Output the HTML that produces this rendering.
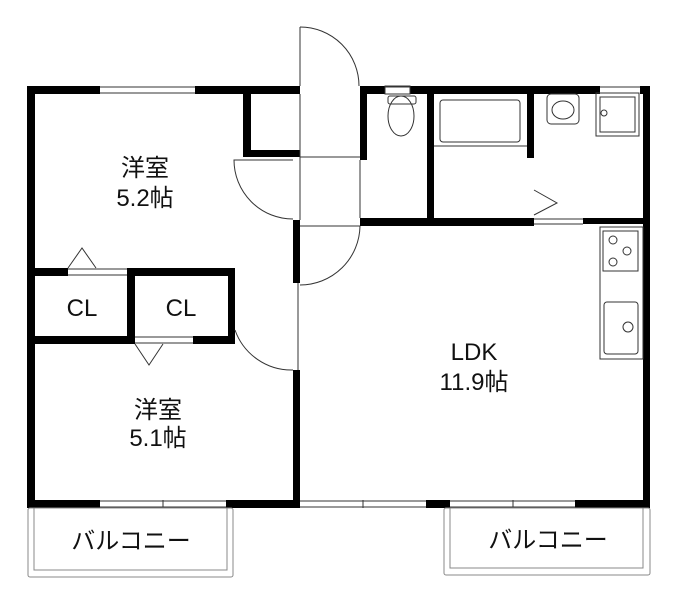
<!DOCTYPE html>
<html><head><meta charset="utf-8"><style>
html,body{margin:0;padding:0;background:#fff}
svg{display:block}
text{font-family:"Liberation Sans","Noto Sans CJK JP",sans-serif;fill:#111}
</style></head><body>
<svg width="678" height="600" viewBox="0 0 678 600" xmlns="http://www.w3.org/2000/svg">
<g fill="#000">
<rect x="27" y="86" width="73" height="8"/>
<rect x="195" y="86" width="105" height="8"/>
<rect x="360" y="86" width="25" height="8"/>
<rect x="410" y="86" width="190" height="8"/>
<rect x="640" y="86" width="10" height="8"/>
<rect x="27" y="86" width="8" height="422"/>
<rect x="643" y="86" width="7" height="422"/>
<rect x="27" y="500" width="73" height="8"/>
<rect x="226" y="500" width="74" height="8"/>
<rect x="426" y="500" width="24" height="8"/>
<rect x="575" y="500" width="75" height="8"/>
<rect x="27" y="268" width="41" height="8"/>
<rect x="127" y="268" width="108" height="8"/>
<rect x="27" y="336" width="108" height="8"/>
<rect x="193" y="336" width="42" height="8"/>
<rect x="127" y="268" width="8" height="76"/>
<rect x="228" y="268" width="7" height="76"/>
<rect x="293" y="220" width="7" height="63"/>
<rect x="293" y="370" width="7" height="138"/>
<rect x="243" y="86" width="8" height="71"/>
<rect x="243" y="150" width="57" height="7"/>
<rect x="360" y="86" width="7" height="74"/>
<rect x="427" y="86" width="7" height="140"/>
<rect x="527" y="86" width="7" height="72"/>
<rect x="360" y="218" width="174" height="8"/>
<rect x="583" y="218" width="65" height="6"/>
</g>
<g fill="none" stroke="#333" stroke-width="1">
<line x1="100" y1="87" x2="195" y2="87"/><line x1="100" y1="93" x2="195" y2="93"/>
<line x1="100" y1="501" x2="226" y2="501"/><line x1="100" y1="507" x2="226" y2="507"/>
<line x1="163" y1="500" x2="163" y2="508"/>
<line x1="300" y1="501" x2="426" y2="501"/><line x1="300" y1="507" x2="426" y2="507"/>
<line x1="363" y1="500" x2="363" y2="508"/>
<line x1="450" y1="501" x2="575" y2="501"/><line x1="450" y1="507" x2="575" y2="507"/>
<line x1="513" y1="500" x2="513" y2="508"/>
<line x1="385" y1="87" x2="410" y2="87"/><line x1="600" y1="87" x2="640" y2="87"/>
<line x1="68" y1="269" x2="127" y2="269"/><line x1="68" y1="275" x2="127" y2="275"/>
<line x1="135" y1="337" x2="193" y2="337"/><line x1="135" y1="343" x2="193" y2="343"/>
<path d="M68 268 L82 248 L96 268" /><path d="M135 344 L149 365 L163 344"/>
<line x1="300" y1="27" x2="300" y2="86"/>
<path d="M300 27 A59 59 0 0 1 359 86"/>
<line x1="300" y1="94" x2="300" y2="220"/><line x1="360" y1="160" x2="360" y2="218"/>
<line x1="300" y1="157" x2="360" y2="157"/><line x1="300" y1="226" x2="360" y2="226"/>
<path d="M293 160 L234 160 A59 59 0 0 0 293 219" />
<path d="M360 226 A60 60 0 0 1 300 285"/>
<path d="M235 330 A60 60 0 0 0 293 370"/>
<line x1="298" y1="283" x2="298" y2="370"/>
<path d="M534 190 L557 203 L534 215"/>
<line x1="534" y1="219" x2="583" y2="219"/><line x1="534" y1="224" x2="583" y2="224"/>
<rect x="440" y="100" width="80" height="42" rx="3"/>
<line x1="434" y1="146" x2="527" y2="146"/>
<rect x="385" y="86" width="25" height="8"/>
<ellipse cx="401" cy="116" rx="13" ry="20"/>
<rect x="388" y="96" width="28" height="8" rx="2"/>
<rect x="547" y="94" width="32" height="30" rx="4"/>
<ellipse cx="563" cy="110" rx="11" ry="9"/>
<rect x="596" y="93" width="43" height="43"/>
<rect x="600" y="97" width="35" height="35"/>
<circle cx="604" cy="113" r="3"/>
<rect x="600" y="227" width="43" height="132"/>
<rect x="603" y="231" width="35" height="40"/>
<circle cx="613" cy="240" r="4"/><circle cx="613" cy="262" r="4"/><circle cx="627" cy="251" r="4"/>
<rect x="604" y="302" width="34" height="52" rx="3"/>
<circle cx="628" cy="327" r="5"/>
<rect x="28" y="508" width="205" height="69" rx="2" stroke="#888"/>
<rect x="34" y="508" width="193" height="62" stroke="#888"/>
<rect x="444" y="508" width="206" height="67" rx="2" stroke="#888"/>
<rect x="450" y="508" width="193" height="60" stroke="#888"/>
</g>
<g text-anchor="middle" font-size="24">
<text x="145" y="176">洋室</text>
<text x="145" y="206">5.2帖</text>
<text x="82" y="316">CL</text>
<text x="181" y="316">CL</text>
<text x="158" y="418">洋室</text>
<text x="158" y="446">5.1帖</text>
<text x="474" y="360">LDK</text>
<text x="474" y="390">11.9帖</text>
<text x="131" y="549">バルコニー</text>
<text x="548" y="548">バルコニー</text>
</g>
</svg>
</body></html>
